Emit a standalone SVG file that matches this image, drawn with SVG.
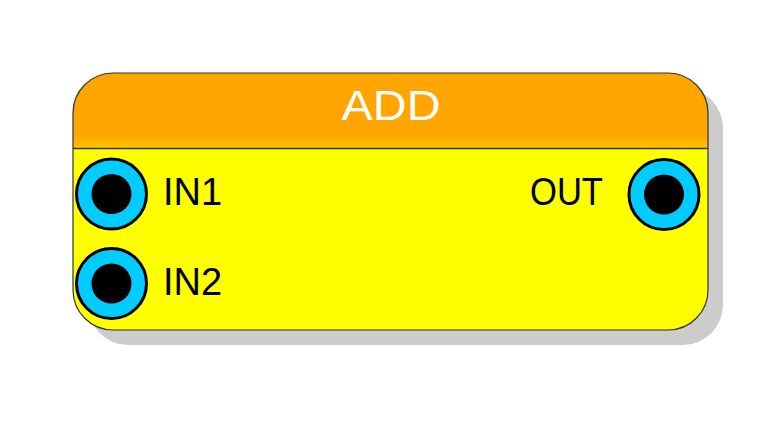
<svg xmlns="http://www.w3.org/2000/svg" width="782" height="425" viewBox="0 0 782 425">
  <defs>
    <linearGradient id="hdr" x1="0" y1="0" x2="0" y2="1">
      <stop offset="0" stop-color="#ffa500"/>
      <stop offset="0.82" stop-color="#ffa500"/>
      <stop offset="1" stop-color="#ffc400"/>
    </linearGradient>
  </defs>
  <style>
    .port { fill: #00ccff; stroke: #000000; stroke-width: 3; }
    .hole { fill: #000000; }
    .lbl { font-family: "Liberation Sans", Arial, sans-serif; font-size: 38px; fill: #000000; }
    .title { font-family: "Liberation Sans", Arial, sans-serif; font-size: 42px; fill: #ffffff; }
  </style>
  <rect width="782" height="425" fill="#ffffff"/>
  <g id="node-add">
    <rect x="88" y="88" width="635" height="257" rx="40" ry="40" fill="#cccccc"/>
    <rect x="73" y="73" width="635" height="257" rx="40" ry="40" fill="#ffff00"/>
    <path d="M73,148 L73,113 A40,40 0 0 1 113,73 L668,73 A40,40 0 0 1 708,113 L708,148 Z" fill="url(#hdr)"/>
    <line x1="73" y1="148.5" x2="708" y2="148.5" stroke="#333333" stroke-width="1.5"/>
    <rect x="73" y="73" width="635" height="257" rx="40" ry="40" fill="none" stroke="#333333" stroke-width="1.2"/>
    <text class="title" x="341.5" y="120" textLength="99" lengthAdjust="spacingAndGlyphs">ADD</text>
  </g>
  <g id="port-in1">
    <circle class="port" cx="111.5" cy="194" r="35"/>
    <circle class="hole" cx="111.5" cy="194" r="20"/>
    <text class="lbl" x="163" y="205">IN1</text>
  </g>
  <g id="port-in2">
    <circle class="port" cx="111.5" cy="283.5" r="35"/>
    <circle class="hole" cx="111.5" cy="283.5" r="20"/>
    <text class="lbl" x="163" y="295">IN2</text>
  </g>
  <g id="port-out">
    <circle class="port" cx="664" cy="194.5" r="35"/>
    <circle class="hole" cx="664" cy="194.5" r="20"/>
    <text class="lbl" x="530" y="205" textLength="73" lengthAdjust="spacingAndGlyphs">OUT</text>
  </g>
  <g id="connectors"></g>
</svg>
